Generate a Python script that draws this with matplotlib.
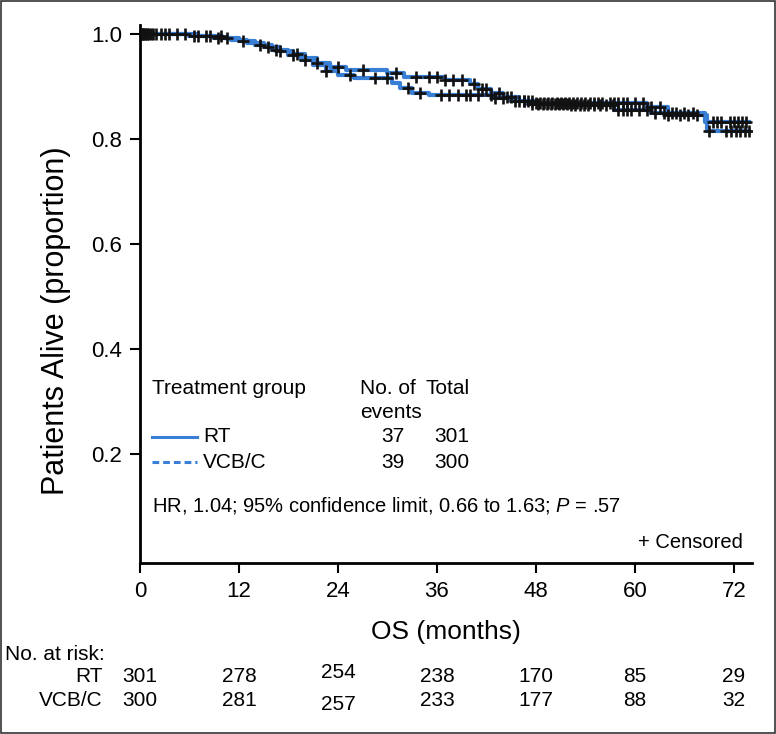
import numpy as np
import matplotlib.pyplot as plt
from matplotlib.lines import Line2D
from matplotlib.patches import Rectangle
from matplotlib.transforms import blended_transform_factory

W, H = 776, 734

# Kaplan-Meier steps (months, proportion alive)
rt_time = [0, 6, 9, 11, 13, 15, 17, 18.5, 20, 21.5, 23, 25, 30, 32, 37, 40, 41,
           42.5, 44, 46, 48, 61.5, 64, 68.5, 73.8]
rt_surv = [1.0, 0.997, 0.993, 0.989, 0.982, 0.975, 0.967, 0.962, 0.955, 0.945,
           0.937, 0.931, 0.925, 0.918, 0.912, 0.905, 0.896, 0.888, 0.88, 0.872,
           0.868, 0.86, 0.85, 0.833, 0.833]
vcb_time = [0, 7, 10, 12, 14, 16, 18, 19.5, 21, 22.5, 24, 26, 30.5, 31.5, 33, 35,
            43, 45, 47, 52, 57.5, 62, 64, 68.8, 73.8]
vcb_surv = [1.0, 0.997, 0.992, 0.986, 0.978, 0.97, 0.96, 0.95, 0.94, 0.93, 0.922,
            0.916, 0.907, 0.897, 0.888, 0.884, 0.878, 0.872, 0.867, 0.865, 0.855,
            0.85, 0.845, 0.815, 0.815]

rt_censor = [0.2, 0.4, 0.6, 0.9, 1.3, 2.0, 3.0, 4.5, 6.5, 8.0, 9.5, 10.5, 15.5, 17.0,
             19.0, 21.5, 24.0, 27.0, 31.0, 33.5, 35.0, 36.0, 37.0, 38.0, 39.0, 40.5,
             41.5, 42.0, 43.5, 44.5, 45.0, 46.0, 46.5, 47.0, 47.5, 48.0, 48.5, 49.0,
             49.5, 50.0, 50.5, 51.0, 51.5, 52.0, 52.5, 53.0, 53.5, 54.0, 54.5, 55.0,
             55.5, 56.0, 57.0, 57.5, 58.0, 58.5, 59.0, 60.0, 61.0, 62.0, 63.0, 64.5,
             65.0, 66.0, 67.0, 69.5, 70.0, 70.5, 71.5, 72.0, 72.5, 73.0, 73.5]
vcb_censor = [0.3, 0.5, 0.8, 1.1, 1.6, 2.5, 3.5, 5.5, 7.0, 8.5, 9.8, 12.5, 14.5, 16.5,
              18.5, 20.0, 22.5, 25.5, 28.5, 30.0, 32.5, 34.0, 36.5, 37.5, 38.5, 39.5,
              40.0, 41.0, 42.5, 43.0, 44.0, 45.5, 46.5, 47.5, 48.2, 48.8, 49.3, 49.8,
              50.3, 50.8, 51.3, 51.8, 52.3, 52.8, 53.3, 53.8, 54.3, 55.0, 55.8, 56.5,
              57.3, 58.0, 58.5, 59.0, 59.5, 60.5, 61.5, 62.5, 63.5, 64.0, 65.5, 66.5,
              67.5, 69.0, 71.0, 71.7, 72.2, 72.8, 73.3, 73.8]

risk_months = [0, 12, 24, 36, 48, 60, 72]
risk_rt = [301, 278, 254, 238, 170, 85, 29]
risk_vcb = [300, 281, 257, 233, 177, 88, 32]

groups = ['RT', 'VCB/C']
n_events = [37, 39]
n_total = [301, 300]
hr_text = 'HR, 1.04; 95% confidence limit, 0.66 to 1.63; $\\it{P}$ = .57'

BLUE = '#3a7fd6'
plt.rcParams['font.family'] = ['Liberation Sans', 'DejaVu Sans']
plt.rcParams['mathtext.fontset'] = 'custom'
plt.rcParams['mathtext.it'] = 'Liberation Sans:italic'


def fx(x):
    return x / W


def fy(y):
    return 1 - y / H


def surv_at(times, surv, t):
    idx = np.searchsorted(times, t, side='right') - 1
    return np.asarray(surv)[idx]


fig = plt.figure(figsize=(W / 100, H / 100), dpi=100)
ax = fig.add_axes([fx(140), fy(563), fx(752) - fx(140), fy(25) - fy(563)])

for t, s, c in [(rt_time, rt_surv, rt_censor), (vcb_time, vcb_surv, vcb_censor)]:
    ax.step(t, s, where='post', color=BLUE, lw=3, zorder=2)
    ax.plot(c, surv_at(t, s, c), ls='none', marker='+', ms=8, mew=1.9,
            color='#111111', zorder=3)

ax.set_xlim(0, 74.2)
ax.set_ylim(-0.0076, 1.017)
ax.set_xticks(risk_months)
ax.set_yticks([0.2, 0.4, 0.6, 0.8, 1.0])
ax.set_yticklabels(['0.2', '0.4', '0.6', '0.8', '1.0'])
ax.tick_params(direction='out', length=7, width=1.5, labelsize=16, pad=6)
for side in ['top', 'right']:
    ax.spines[side].set_visible(False)
for side in ['left', 'bottom']:
    ax.spines[side].set_linewidth(2)

fig.text(fx(56), fy(321), 'Patients Alive (proportion)', rotation=90,
         ha='center', va='center', fontsize=22)
fig.text(fx(446), fy(632), 'OS (months)', ha='center', va='center', fontsize=19)

# legend block inside the axes
fig.text(fx(152), fy(388), 'Treatment group', ha='left', va='center', fontsize=15)
fig.text(fx(360), fy(388), 'No. of', ha='left', va='center', fontsize=15)
fig.text(fx(360), fy(412), 'events', ha='left', va='center', fontsize=15)
fig.text(fx(425), fy(388), 'Total', ha='left', va='center', fontsize=15)
for i, (g, ev, tot) in enumerate(zip(groups, n_events, n_total)):
    yy = 437 + 25 * i
    fig.add_artist(Line2D([fx(152), fx(197)], [fy(yy), fy(yy)], color=BLUE,
                          lw=2.2, ls='-' if i == 0 else (0, (2.2, 1.3))))
    fig.text(fx(203), fy(yy), g, ha='left', va='center', fontsize=15)
    fig.text(fx(393), fy(yy), str(ev), ha='center', va='center', fontsize=15)
    fig.text(fx(452), fy(yy), str(tot), ha='center', va='center', fontsize=15)
fig.text(fx(152), fy(506), hr_text, ha='left', va='center', fontsize=14.5)
fig.text(fx(743), fy(543), '+ Censored', ha='right', va='center', fontsize=14.5)

# number at risk table
tr = blended_transform_factory(ax.transData, fig.transFigure)
fig.text(fx(5), fy(655), 'No. at risk:', ha='left', va='center', fontsize=15)
for name, counts, yy in [('RT', risk_rt, 677), ('VCB/C', risk_vcb, 701)]:
    fig.text(fx(103), fy(yy), name, ha='right', va='center', fontsize=15)
    for m, n in zip(risk_months, counts):
        shift = (-5 if name == 'RT' else 3) if m == 24 else 0
        ax.text(m, fy(yy + shift), str(n), transform=tr, ha='center',
                va='center', fontsize=15)

fig.add_artist(Rectangle((0.001, 0.001), 0.998, 0.998, transform=fig.transFigure,
                         fill=False, lw=1.2, edgecolor='#333333'))

fig.savefig('out.png', dpi=100)
